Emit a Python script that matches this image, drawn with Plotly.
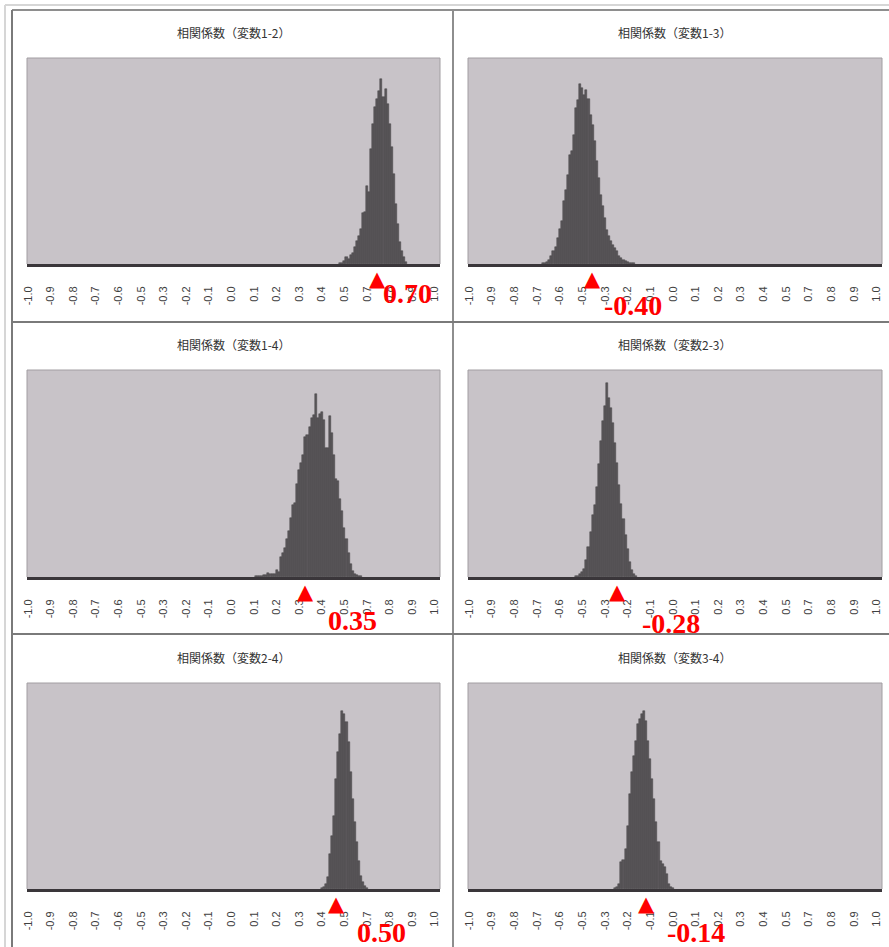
import numpy as np
import plotly.graph_objects as go

# Simulated correlation coefficients: frequency per 0.01-wide class
TITLES = [
    "相関係数（変数1-2）", "相関係数（変数1-3）",
    "相関係数（変数1-4）", "相関係数（変数2-3）",
    "相関係数（変数2-4）", "相関係数（変数3-4）",
]
TRUE_R = [0.70, -0.40, 0.35, -0.28, 0.50, -0.14]

# first class value of each non-empty run of classes
CLASS_START = [0.52, -0.64, 0.11, -0.48, 0.43, -0.29]

FREQ_12 = [4, 7, 14, 37, 25, 45, 55, 84, 114, 142, 175, 254, 259, 390, 359, 575,
           700, 784, 825, 865, 925, 834, 875, 800, 700, 584, 450, 300, 200, 109,
           67, 34, 9]
FREQ_13 = [3, 5, 10, 22, 39, 64, 84, 130, 177, 214, 314, 372, 447, 547, 567, 647,
           780, 822, 900, 880, 847, 872, 827, 747, 697, 614, 514, 430, 347, 289,
           230, 172, 139, 114, 97, 80, 64, 39, 30, 22, 14, 9, 5, 4, 3]
FREQ_14 = [3, 5, 5, 7, 10, 9, 20, 15, 13, 17, 35, 25, 100, 120, 145, 190, 230, 295,
           360, 370, 465, 530, 565, 605, 695, 705, 745, 790, 805, 910, 790, 810,
           820, 780, 640, 640, 800, 715, 605, 490, 480, 390, 330, 245, 190, 120,
           65, 30, 15, 8, 5, 3]
FREQ_23 = [3, 5, 13, 25, 40, 85, 150, 225, 310, 360, 450, 560, 675, 775, 850, 965,
           890, 840, 765, 665, 565, 460, 365, 290, 210, 140, 75, 35, 15, 5]
FREQ_24 = [4, 10, 25, 60, 175, 265, 365, 550, 685, 775, 890, 875, 835, 735, 585,
           450, 335, 235, 140, 65, 35, 15, 5]
FREQ_34 = [3, 10, 25, 135, 145, 200, 315, 475, 585, 665, 740, 825, 850, 875, 890,
           840, 740, 650, 550, 450, 335, 235, 140, 125, 110, 75, 25, 8, 3]
FREQS = [FREQ_12, FREQ_13, FREQ_14, FREQ_23, FREQ_24, FREQ_34]

# category axis: every 11th class is labelled
TICK_VALS = [-1.00, -0.89, -0.78, -0.67, -0.56, -0.45, -0.34, -0.23, -0.12, -0.01,
             0.10, 0.21, 0.32, 0.43, 0.54, 0.65, 0.76, 0.87, 0.98]
TICK_TEXT = ["-1.0", "-0.9", "-0.8", "-0.7", "-0.6", "-0.5", "-0.3", "-0.2", "-0.1",
             "0.0", "0.1", "0.2", "0.3", "0.4", "0.5", "0.7", "0.8", "0.9", "1.0"]

W, H = 889, 947
COL_X = [(27, 440), (468, 882)]
ROW_Y = [(58, 264), (370, 577), (683, 889)]
YMAX = 1030
# value-label offsets (px) from the marker position
LABEL_OFFSETS = [(30, 29), (40, 41), (47, 43), (54, 46), (45, 43), (50, 43)]

BG = "#c8c3c8"
BAR = "#5a565a"
RED = "#ff0000"

fig = go.Figure()
layout = dict(
    width=W, height=H, margin=dict(l=0, r=0, t=0, b=0, autoexpand=False),
    paper_bgcolor="white", plot_bgcolor=BG, showlegend=False,
    bargap=0, annotations=[], shapes=[],
)

for i in range(6):
    n = i + 1
    row, col = divmod(i, 2)
    x0, x1 = COL_X[col]
    t, b = ROW_Y[row]
    xa = "xaxis" if n == 1 else f"xaxis{n}"
    ya = "yaxis" if n == 1 else f"yaxis{n}"
    xr = "x" if n == 1 else f"x{n}"
    yr = "y" if n == 1 else f"y{n}"

    freq = FREQS[i]
    classes = np.round(CLASS_START[i] + 0.01 * np.arange(len(freq)), 2)
    fig.add_trace(go.Bar(
        x=classes, y=freq, width=0.01, xaxis=xr, yaxis=yr,
        marker=dict(color=BAR, line=dict(color="#444044", width=0.5)),
        hoverinfo="x+y",
    ))

    layout[xa] = dict(
        domain=[x0 / W, x1 / W], anchor=yr, range=[-1.005, 1.005],
        tickmode="array", tickvals=TICK_VALS, ticktext=TICK_TEXT,
        tickangle=-90, ticks="", ticklabelstandoff=15, automargin=False,
        tickfont=dict(family="Liberation Sans, Arial", size=11, color="#404040"),
        showline=True, linecolor="#3a363a", linewidth=3,
        showgrid=False, zeroline=False, fixedrange=True,
    )
    layout[ya] = dict(
        domain=[1 - b / H, 1 - t / H], anchor=xr, range=[0, YMAX],
        visible=False, showgrid=False, zeroline=False, fixedrange=True,
        automargin=False,
    )

    # light frame on the top, left and right of the plot area
    for (sx0, sy0, sx1, sy1) in [(0, 1, 1, 1), (0, 0, 0, 1), (1, 0, 1, 1)]:
        layout["shapes"].append(dict(
            type="line", xref=f"{xr} domain", yref=f"{yr} domain",
            x0=sx0, y0=sy0, x1=sx1, y1=sy1,
            line=dict(color="#a29ea2", width=1),
        ))

    layout["annotations"].append(dict(
        text=TITLES[i], xref="paper", yref="paper",
        x=(x0 + x1) / 2 / W, y=1 - (t - 26) / H,
        xanchor="center", yanchor="middle", showarrow=False,
        font=dict(family="Noto Sans CJK JP", size=12, color="#333333"),
    ))

    # red marker for the true correlation, just under the axis
    layout["annotations"].append(dict(
        text="▲", xref=xr, yref=f"{yr} domain",
        x=TRUE_R[i], y=0, yshift=-1,
        xanchor="center", yanchor="top", showarrow=False,
        font=dict(family="DejaVu Sans", size=21, color=RED),
    ))

    dx, dy = LABEL_OFFSETS[i]
    layout["annotations"].append(dict(
        text=f"<b>{TRUE_R[i]:.2f}</b>", xref=xr, yref=f"{yr} domain",
        x=TRUE_R[i], y=0, xshift=dx, yshift=-dy,
        xanchor="center", yanchor="middle", showarrow=False,
        font=dict(family="Liberation Serif, Times New Roman", size=28, color=RED),
    ))

# panel frame lines
def pline(xa0, ya0, xa1, ya1, color, width):
    layout["shapes"].append(dict(
        type="line", xref="paper", yref="paper",
        x0=xa0 / W, y0=1 - ya0 / H, x1=xa1 / W, y1=1 - ya1 / H,
        line=dict(color=color, width=width),
    ))

pline(5, 5, W, 5, "#d6d6d6", 2)
pline(5, 5, 5, H, "#d6d6d6", 2)
pline(12, 10, W, 10, "#8e8e8e", 2)
pline(12, 10, 12, H, "#7a7a7a", 2)
pline(453, 10, 453, H, "#8e8e8e", 2)
pline(12, 322, W, 322, "#7a7a7a", 2)
pline(12, 634, W, 634, "#7a7a7a", 2)

fig.update_layout(**layout)
fig.write_html("out.html")
